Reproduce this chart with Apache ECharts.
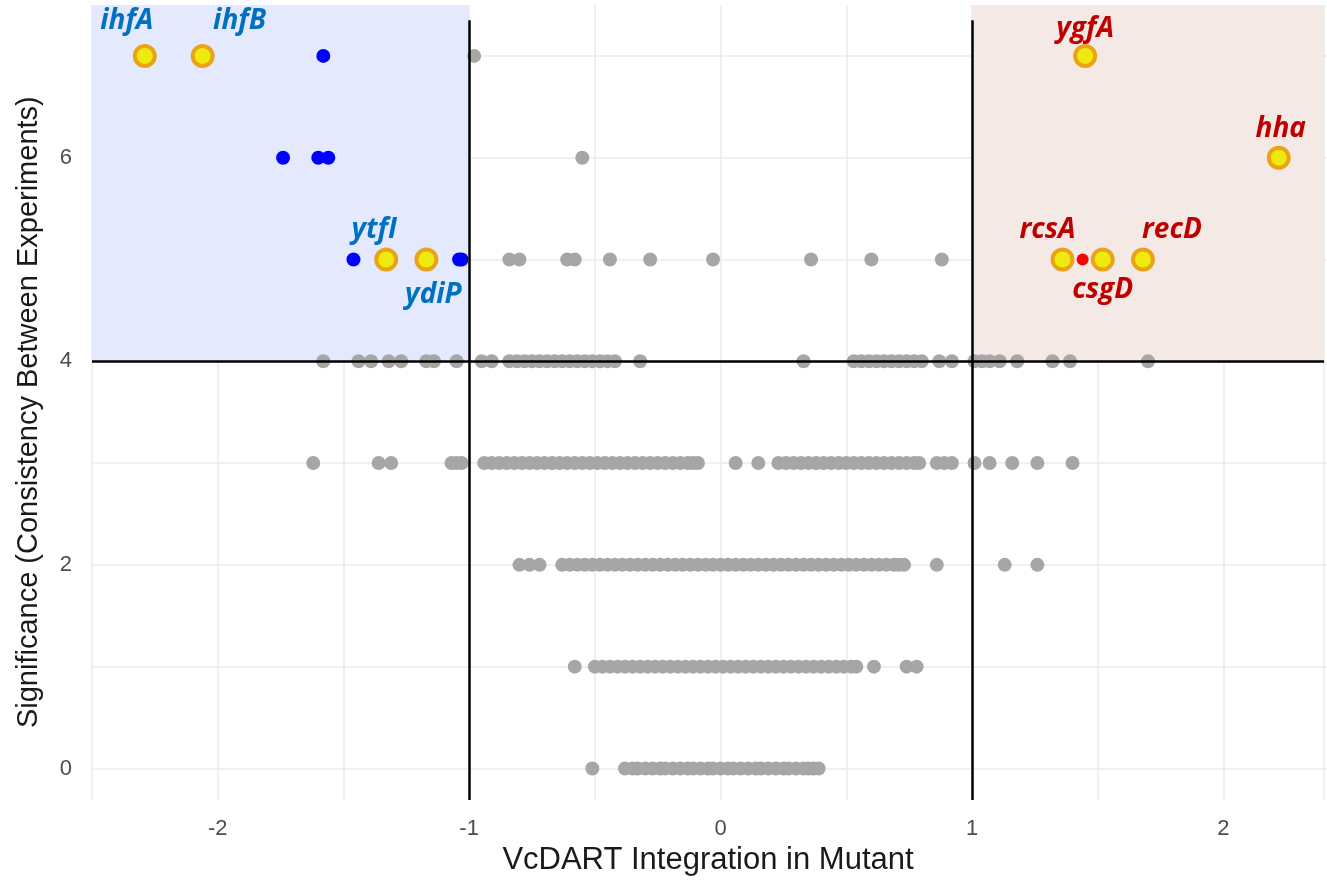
<!DOCTYPE html>
<html>
<head>
<meta charset="utf-8">
<title>VcDART Integration in Mutant</title>
<script src="https://cdn.jsdelivr.net/npm/echarts@6.0.0/dist/echarts.min.js"></script>
<style>
html, body { margin: 0; padding: 0; background: #fff; overflow: hidden; }
#main { width: 1327px; height: 882px; }
</style>
</head>
<body>
<div id="main"></div>
<script>
// gray points: x positions (VcDART integration) per significance level
var sig0 = [-0.51, -0.38, -0.35, -0.33, -0.30, -0.27, -0.24, -0.22, -0.19, -0.16, -0.13, -0.11, -0.08, -0.05, -0.03, 0.00,
            0.03, 0.05, 0.08, 0.11, 0.14, 0.16, 0.19, 0.22, 0.25, 0.27, 0.30, 0.33, 0.35, 0.37, 0.39];
var sig1 = [-0.58, -0.50, -0.47, -0.44, -0.41, -0.38, -0.35, -0.32, -0.29, -0.26, -0.23, -0.20, -0.17, -0.14, -0.11, -0.08,
            -0.05, -0.02, 0.01, 0.04, 0.07, 0.10, 0.13, 0.16, 0.19, 0.22, 0.25, 0.28, 0.31, 0.34, 0.37, 0.40, 0.43, 0.46,
            0.49, 0.52, 0.54, 0.61, 0.74, 0.78];
var sig2 = [-0.80, -0.76, -0.72, -0.63, -0.60, -0.57, -0.54, -0.51, -0.48, -0.45, -0.42, -0.39, -0.36, -0.33, -0.30, -0.27,
            -0.24, -0.21, -0.18, -0.15, -0.12, -0.09, -0.06, -0.03, 0.00, 0.03, 0.06, 0.09, 0.12, 0.15, 0.18, 0.21, 0.24,
            0.27, 0.30, 0.33, 0.36, 0.39, 0.42, 0.45, 0.48, 0.51, 0.54, 0.57, 0.60, 0.63, 0.66, 0.69, 0.71, 0.73, 0.86,
            1.13, 1.26];
var sig3 = [-1.62, -1.36, -1.31, -1.07, -1.05, -1.03, -0.94, -0.91, -0.88, -0.85, -0.82, -0.79, -0.76, -0.73, -0.70, -0.67,
            -0.64, -0.61, -0.58, -0.55, -0.52, -0.49, -0.46, -0.43, -0.40, -0.37, -0.34, -0.31, -0.28, -0.25, -0.22, -0.19,
            -0.16, -0.13, -0.11, -0.09, 0.06, 0.15, 0.23, 0.26, 0.29, 0.32, 0.35, 0.38, 0.41, 0.44, 0.47, 0.50, 0.53, 0.56,
            0.59, 0.62, 0.65, 0.68, 0.71, 0.74, 0.77, 0.79, 0.86, 0.89, 0.92, 1.01, 1.07, 1.16, 1.26, 1.40];
var sig4 = [-1.58, -1.44, -1.39, -1.32, -1.27, -1.17, -1.14, -1.05, -0.95, -0.91, -0.84, -0.81, -0.78, -0.75, -0.72, -0.69,
            -0.66, -0.63, -0.60, -0.57, -0.54, -0.51, -0.48, -0.45, -0.42, -0.32, 0.33, 0.53, 0.56, 0.59, 0.62, 0.65, 0.68,
            0.71, 0.74, 0.77, 0.80, 0.87, 0.92, 1.01, 1.04, 1.07, 1.11, 1.18, 1.32, 1.39, 1.70];
var sig5 = [-0.84, -0.80, -0.61, -0.58, -0.44, -0.28, -0.03, 0.36, 0.60, 0.88];
var sig6 = [-0.55];
var sig7 = [-0.98];

// significant hits that are not labelled
var blueX = [-1.58, -1.74, -1.60, -1.56, -1.46, -1.04, -1.03];
var blueY = [7, 6, 6, 6, 5, 5, 5];
var redX = [1.44];
var redY = [5];

// labelled genes
var geneNames = ['ihfA', 'ihfB', 'ytfI', 'ydiP', 'ygfA', 'hha', 'rcsA', 'csgD', 'recD'];
var geneX     = [-2.29, -2.06, -1.33, -1.17, 1.45, 2.22, 1.36, 1.52, 1.68];
var geneY     = [7, 7, 5, 5, 7, 6, 5, 5, 5];
var geneSide  = ['down', 'down', 'down', 'down', 'up', 'up', 'up', 'up', 'up'];

var xTicks = [-2, -1, 0, 1, 2];
var yTicks = [0, 2, 4, 6];

// thresholds and axis extents
var xCut = 1, yCut = 4;
var xMin = -2.5, xMax = 2.40, yMin = -0.31, yMax = 7.5;

// where each gene label sits relative to its point (px)
var labelOffset = {
    ihfA: [-18, -35], ihfB: [37, -35], ytfI: [-12, -29], ydiP: [7, 36],
    ygfA: [0, -27], hha: [2, -29], rcsA: [-15, -29], csgD: [0, 31], recD: [29, -29]
};

var grayData = [];
[sig0, sig1, sig2, sig3, sig4, sig5, sig6, sig7].forEach(function (row, lvl) {
    row.forEach(function (x) { grayData.push([x, lvl]); });
});
var blueData = blueX.map(function (x, i) { return [x, blueY[i]]; });
var redData = redX.map(function (x, i) { return [x, redY[i]]; });
var geneData = geneNames.map(function (n, i) {
    return {
        name: n,
        value: [geneX[i], geneY[i]],
        label: {
            offset: labelOffset[n],
            color: geneSide[i] === 'down' ? '#0070c0' : '#c00000'
        }
    };
});

var chart = echarts.init(document.getElementById('main'));

// second grid only carries the y gridlines / labels (0..7) lined up with the data grid
var pxPerY = 795 / (yMax - yMin);
var gridB_top = 5 + (yMax - 7) * pxPerY;
var gridB_bottom = 82 + (0 - yMin) * pxPerY;

var axisFont = 'Liberation Sans, Arial, sans-serif';

var option = {
    animation: false,
    backgroundColor: '#fff',
    grid: [
        { left: 92, right: 0, top: 5, bottom: 82 },
        { left: 92, right: 0, top: gridB_top, bottom: gridB_bottom }
    ],
    xAxis: [
        {
            gridIndex: 0, type: 'value', min: xMin, max: xMax, interval: 0.5,
            axisLine: { show: false }, axisTick: { show: false },
            splitLine: { show: true, lineStyle: { color: '#ebebeb', width: 1.5 } },
            axisLabel: {
                color: '#4d4d4d', fontSize: 22, fontFamily: axisFont, margin: 18,
                formatter: function (v) { return xTicks.indexOf(v) >= 0 ? String(v) : ''; }
            },
            name: 'VcDART Integration in Mutant', nameLocation: 'middle', nameGap: 43,
            nameTextStyle: { color: '#1a1a1a', fontSize: 31, fontFamily: axisFont }
        },
        {
            gridIndex: 1, type: 'value', min: xMin, max: xMax, show: false
        }
    ],
    yAxis: [
        {
            gridIndex: 0, type: 'value', min: yMin, max: yMax,
            axisLine: { show: false }, axisTick: { show: false },
            axisLabel: { show: false }, splitLine: { show: false }
        },
        {
            gridIndex: 1, type: 'value', min: 0, max: 7, interval: 1,
            axisLine: { show: false }, axisTick: { show: false },
            splitLine: { show: true, lineStyle: { color: '#ebebeb', width: 1.5 } },
            axisLabel: {
                color: '#4d4d4d', fontSize: 22, fontFamily: axisFont, margin: 20,
                formatter: function (v) { return yTicks.indexOf(v) >= 0 ? String(v) : ''; }
            },
            name: 'Significance (Consistency Between Experiments)', nameLocation: 'middle', nameGap: 49,
            nameTextStyle: { color: '#1a1a1a', fontSize: 29, fontFamily: axisFont }
        }
    ],
    series: [
        {
            // shaded quadrants
            type: 'scatter', xAxisIndex: 0, yAxisIndex: 0, data: [], z: -1, silent: true,
            markArea: {
                silent: true,
                data: [
                    [{ coord: [xMin, yCut], itemStyle: { color: '#e5e9fd' } }, { coord: [-xCut, yMax] }],
                    [{ coord: [xCut, yCut], itemStyle: { color: '#f5e9e6' } }, { coord: [xMax, yMax] }]
                ]
            }
        },
        {
            type: 'scatter', xAxisIndex: 0, yAxisIndex: 0, z: 2,
            symbolSize: 14, itemStyle: { color: '#a6a6a6', opacity: 1 },
            data: grayData
        },
        {
            // threshold lines
            type: 'scatter', xAxisIndex: 0, yAxisIndex: 0, data: [], z: 3, silent: true,
            markLine: {
                silent: true, symbol: 'none',
                label: { show: false },
                lineStyle: { color: '#000', width: 2.5, type: 'solid' },
                data: [
                    [{ coord: [-xCut, yMin] }, { coord: [-xCut, 7.35] }],
                    [{ coord: [xCut, yMin] }, { coord: [xCut, 7.35] }],
                    [{ coord: [xMin, yCut] }, { coord: [xMax, yCut] }]
                ]
            }
        },
        {
            type: 'scatter', xAxisIndex: 0, yAxisIndex: 0, z: 4,
            symbolSize: 14, itemStyle: { color: '#0000ff', opacity: 1 },
            data: blueData
        },
        {
            type: 'scatter', xAxisIndex: 0, yAxisIndex: 0, z: 4,
            symbolSize: 12, itemStyle: { color: '#ff0000', opacity: 1 },
            data: redData
        },
        {
            type: 'scatter', xAxisIndex: 0, yAxisIndex: 0, z: 5,
            symbolSize: 20,
            itemStyle: { color: '#eeea10', borderColor: '#e8a317', borderWidth: 4, opacity: 1 },
            label: {
                show: true, position: 'inside', formatter: '{b}',
                fontFamily: 'Open Sans, sans-serif', fontWeight: 'bold', fontStyle: 'italic',
                fontSize: 28, align: 'center', verticalAlign: 'middle'
            },
            data: geneData
        }
    ]
};

chart.setOption(option);
</script>
</body>
</html>
